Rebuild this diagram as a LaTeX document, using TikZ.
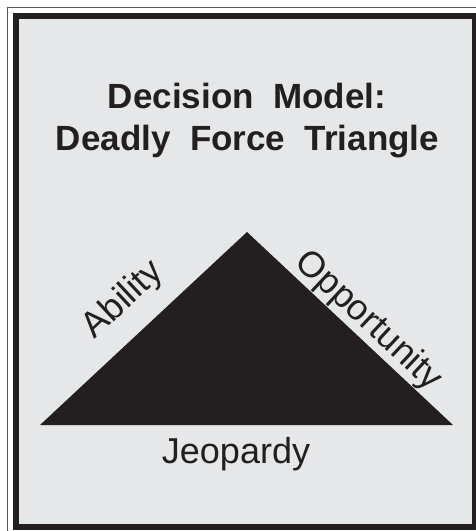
\documentclass[tikz,border=0pt]{standalone}
\usepackage{fontspec}
\setmainfont{Liberation Sans}
\usepackage{tikz}
\definecolor{panelgray}{HTML}{E6E7E8}
\definecolor{inkblack}{HTML}{231F20}

\begin{document}
\begin{tikzpicture}[
  x=1pt, y=-1pt,
  every node/.style={inner sep=0pt, text=inkblack},
  title/.style={font=\fontsize{35}{42}\selectfont\bfseries, anchor=base},
  side/.style={font=\fontsize{36}{43}\selectfont, anchor=base}
]
\clip (0,0) rectangle (476,531);

% frame
\draw[gray!70!black, line width=1pt] (7.5,7.5) rectangle (490,545);
\draw[inkblack, fill=panelgray, line width=6pt] (16,16) rectangle (475,527);

\node[title] (head1) at (247,108) {Decision~ Model:};
\node[title] (head2) at (247.5,150) {Deadly~ Force~ Triangle};

% triangle
\coordinate (left) at (40,425);
\coordinate (apex) at (247,232);
\coordinate (right) at (453,425);
\fill[inkblack] (left) -- (apex) -- (right) -- cycle;

\node[side, rotate=43] (ability) at (130,307) {Ability};
\node[side, rotate=-43] (opportunity) at (362,328) {Opportunity};
\node[side] (jeopardy) at (236,463) {Jeopardy};
\end{tikzpicture}
\end{document}
